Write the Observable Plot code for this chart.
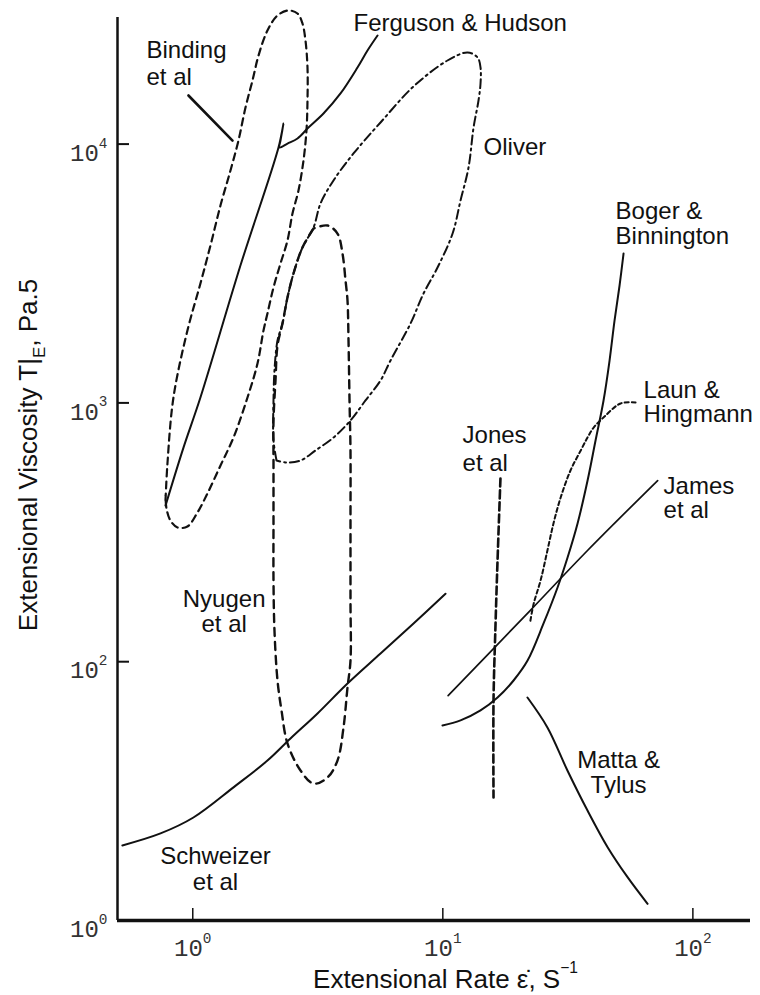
<!DOCTYPE html>
<html><head><meta charset="utf-8">
<script src="https://cdn.jsdelivr.net/npm/d3@7"></script>
<script src="https://cdn.jsdelivr.net/npm/@observablehq/plot@0.6"></script>
<style>body{margin:0;background:#fff;} svg{display:block;}</style>
</head><body><div id="chart"></div>
<script>
// ---- data (x: extensional rate 1/s, y: extensional viscosity) ----
const bindingX = [0.778,0.792,0.837,0.952,1.073,1.177,1.291,1.415,1.523,1.625,1.733,1.832,1.989,2.182,2.414,2.623,2.746,2.823,2.876,2.876,2.849,2.772,2.647,2.505,2.392,2.243,2.103,1.989,1.918,1.815,1.655,1.455,1.291,1.145,1.044,0.952,0.869,0.814,0.785,0.778];
const bindingY = [420,583,1049,1905,2893,4057,5800,7907,10320,13850,17610,21990,27480,31400,32830,31960,29240,25140,19770,14740,11290,8643,6618,5393,4241,3456,2792,2215,1905,1420,1049,735,573,447,377,333,330,351,391,439];
const bindingLeaderX = [0.961,1.442];
const bindingLeaderY = [15410,10320];
const fergusonX = [0.778,0.918,1.073,1.551,2.202,2.306,2.243,2.222,2.392,2.623,2.902,3.332,3.898,4.558,4.997,5.481];
const fergusonY = [401,672,1049,3395,9703,12010,10320,9703,10050,10510,11590,13130,15690,19770,22990,26280];
const oliverX = [2.162,2.103,2.103,2.122,2.182,2.284,2.392,2.528,2.746,3.040,3.242,3.654,4.393,5.634,7.636,10.44,12.55,13.77,14.15,14.15,13.89,13.27,12.67,11.77,10.94,9.524,8.371,7.428,6.178,5.634,4.906,4.273,3.654,3.096,2.697,2.348,2.162];
const oliverY = [599,716,1022,1334,1742,2027,2554,3162,3986,4762,5896,7235,9199,12120,16700,21040,22590,21610,19770,17150,14740,11590,8120,6053,4513,3336,2646,2027,1458,1221,1022,855,735,655,599,589,599];
const nyugenX = [3.040,2.746,2.528,2.392,2.284,2.182,2.142,2.103,2.103,2.103,2.103,2.122,2.182,2.264,2.392,2.697,3.040,3.457,3.791,4.007,4.157,4.273,4.273,4.273,4.273,4.235,4.196,4.157,4.082,3.970,3.791,3.457,3.040];
const nyugenY = [4720,3986,3162,2554,2027,1667,1221,855,599,351,206,132,84.6,64.8,48.3,38.0,33.8,35.7,41.5,55.7,79.5,101,172,351,655,1022,1742,2487,2972,3779,4513,4848,4720];
const schweizerX = [0.523,0.743,1.006,1.455,1.989,2.459,3.154,4.157,5.634,7.636,10.25];
const schweizerY = [19.5,21.7,25.0,32.7,41.5,50.5,63.1,82.4,107.6,140.5,183];
const bogerX = [9.97,11.77,14.15,16.55,19.18,21.82,25.28,28.76,31.54,34.58,37.92,40.81,43.93,46.43,48.62,50.91,52.82];
const bogerY = [56.7,59.3,64.8,72.7,84.6,101,140.5,193.5,252.6,342,501,715.5,1022,1458,2082,2842,3779];
const launX = [22.4,23.1,24.6,26.2,27.7,29.6,32.4,35.6,37.9,40.1,43.9,51.4,59.0];
const launY = [144,168,206,269,342,431,548,655,735,803,878,995,1004];
const jamesX = [10.5,22.4,37.9,72.3];
const jamesY = [74,158,269,501];
const jonesX = [17.0,16.55,16.25,15.95,15.95];
const jonesY = [510,246,140.5,70.8,29.9];
const mattaX = [21.8,26.2,31.5,37.9,45.6,54.8,65.9];
const mattaY = [72.7,55.7,38.0,26.6,19.2,14.7,11.6];

const labelText = ["Binding","et al","Ferguson & Hudson","Oliver","Boger &","Binnington","Laun &","Hingmann","Jones","et al","James","et al","Nyugen","et al","Schweizer","et al","Matta &","Tylus"];
const labelX = [0.653,0.653,4.393,14.55,49.09,49.09,63.51,63.51,11.99,11.99,76.35,76.35,1.335,1.335,1.233,1.233,50.45,50.45];
const labelY = [21420,16990,27240,9036,5157,4129,1049,840,697,548,446.6,357.6,162,129.7,16.6,13.06,39.0,31.2];
const labelAlign = ["start","start","start","start","start","start","start","start","start","start","start","start","middle","middle","middle","middle","middle","middle"];

const xTickValues = [1, 10, 100];
const xTickLabels = ["10^{0}", "10^{1}", "10^{2}"];
const yTickValues = [10, 100, 1000, 10000];
const yTickLabels = ["10^{0}", "10^{2}", "10^{3}", "10^{4}"];
const xTitle = "Extensional Rate \u03B5\u0307, S^{\u22121}";
const yTitle = "Extensional Viscosity T|_{E}, Pa.5";

// ---- build ----
const xDomain = [0.5, 170];
const yDomain = [10, 34320];
const yAxisTop = 30850;
const zip = (xs, ys) => xs.map((v, i) => ({x: v, y: ys[i]}));
const ink = "#111";

const curves = [
  {d: zip(bindingX, bindingY), dash: "7,5", w: 2.2},
  {d: zip(bindingLeaderX, bindingLeaderY), dash: null, w: 2.6},
  {d: zip(fergusonX, fergusonY), dash: null, w: 2},
  {d: zip(oliverX, oliverY), dash: "9,4,2,4", w: 2},
  {d: zip(nyugenX, nyugenY), dash: "8,6", w: 2.4},
  {d: zip(schweizerX, schweizerY), dash: null, w: 2},
  {d: zip(bogerX, bogerY), dash: null, w: 2},
  {d: zip(launX, launY), dash: "4,3", w: 2},
  {d: zip(jamesX, jamesY), dash: null, w: 1.7},
  {d: zip(jonesX, jonesY), dash: "8,4", w: 2.6},
  {d: zip(mattaX, mattaY), dash: null, w: 2}
];

const labels = labelText.map((t, i) => ({t, x: labelX[i], y: labelY[i], a: labelAlign[i]}));
const sansFont = "'Liberation Sans', Arial, Helvetica, sans-serif";
const monoFont = "'Liberation Mono', 'DejaVu Sans Mono', monospace";

const marks = [];
for (const c of curves) {
  marks.push(Plot.line(c.d, {x: "x", y: "y", stroke: ink, strokeWidth: c.w, strokeDasharray: c.dash, curve: "catmull-rom"}));
}
marks.push(
  Plot.ruleX([xDomain[0]], {x: d => d, y1: () => yDomain[0], y2: () => yAxisTop, stroke: ink, strokeWidth: 2.5}),
  Plot.ruleY([yDomain[0]], {y: d => d, x1: () => xDomain[0], x2: () => xDomain[1], stroke: ink, strokeWidth: 3.5}),
  Plot.tickX(xTickValues, {x: d => d, insetTop: 903, stroke: ink, strokeWidth: 1.5}),
  Plot.tickY(yTickValues.slice(1), {y: d => d, insetRight: 621, stroke: ink, strokeWidth: 2}),
  Plot.text(xTickValues, {x: d => d, y: () => yDomain[0], text: (d, i) => xTickLabels[i], dy: 28, fontFamily: monoFont, fontSize: 24, fill: "#333"}),
  Plot.text(yTickValues, {x: () => xDomain[0], y: d => d, text: (d, i) => yTickLabels[i], dx: -10, dy: 9, textAnchor: "end", fontFamily: monoFont, fontSize: 24, fill: "#333"}),
  Plot.text(labels.filter(l => l.a === "start"), {x: "x", y: "y", text: "t", textAnchor: "start", lineAnchor: "bottom", fontFamily: sansFont, fontSize: 24, fill: ink}),
  Plot.text(labels.filter(l => l.a === "middle"), {x: "x", y: "y", text: "t", textAnchor: "middle", lineAnchor: "bottom", fontFamily: sansFont, fontSize: 24, fill: ink}),
  Plot.text([xTitle], {x: () => 10.25, y: () => yDomain[0], text: d => d, dy: 67, lineAnchor: "bottom", fontFamily: sansFont, fontSize: 26, fill: ink}),
  Plot.text([yTitle], {x: () => xDomain[0], y: () => 629, text: d => d, dx: -89, rotate: -90, fontFamily: sansFont, fontSize: 26, fill: ink})
);

const chart = Plot.plot({
  width: 760, height: 995,
  marginLeft: 117, marginRight: 10, marginTop: 5, marginBottom: 75,
  style: {background: "#fff", color: ink, overflow: "visible"},
  x: {type: "log", domain: xDomain, axis: null},
  y: {type: "log", domain: yDomain, axis: null},
  marks
});
document.getElementById("chart").appendChild(chart);

// turn ^{..} / _{..} markup into real super/subscript tspans
const NS = "http://www.w3.org/2000/svg";
chart.querySelectorAll("text").forEach(el => {
  const s = el.textContent;
  if (!/[\^_]\{/.test(s)) return;
  const fs = parseFloat(getComputedStyle(el).fontSize) || 16;
  const parts = s.split(/([\^_]\{[^}]*\})/).filter(p => p);
  while (el.firstChild) el.removeChild(el.firstChild);
  let shift = 0;
  for (const p of parts) {
    const t = document.createElementNS(NS, "tspan");
    let target = 0, txt = p, size = null;
    if (p.startsWith("^{")) { target = -0.55; txt = p.slice(2, -1); size = 0.6; }
    else if (p.startsWith("_{")) { target = 0.3; txt = p.slice(2, -1); size = 0.65; }
    const dy = (target - shift) * fs;
    if (dy) t.setAttribute("dy", dy.toFixed(1));
    if (size) t.setAttribute("font-size", (fs * size).toFixed(1));
    shift = target;
    t.textContent = txt;
    el.appendChild(t);
  }
});
</script>
</body></html>
